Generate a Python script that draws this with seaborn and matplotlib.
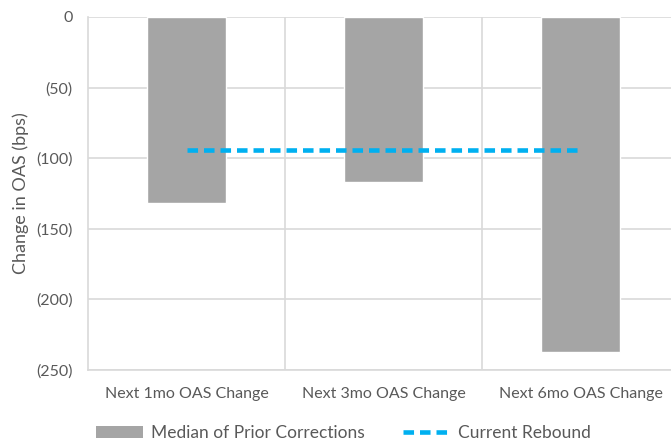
import numpy as np
import pandas as pd
import matplotlib
matplotlib.use("Agg")
import matplotlib.pyplot as plt
import seaborn as sns
from matplotlib.patches import Patch
from matplotlib.lines import Line2D
from matplotlib.ticker import FuncFormatter, FixedLocator

categories = ["Next 1mo OAS Change", "Next 3mo OAS Change", "Next 6mo OAS Change"]
median_prior = [-132, -117, -237]
current_rebound = [-94, -94, -94]
y_ticks = [0, -50, -100, -150, -200, -250]

sns.set_theme(style="white")
plt.rcParams["font.family"] = ["Lato", "DejaVu Sans"]
TXT = "#595959"
GRID = "#D9D9D9"
BAR = "#A5A5A5"
LINE = "#00B0F0"
DASH = (0, (2.3, 1.3))

fig = plt.figure(figsize=(6.71, 4.41), dpi=100)
ax = fig.add_axes([88/671, (441-370)/441, 591/671, 353/441])

df = pd.DataFrame({"cat": categories, "val": median_prior})
sns.barplot(data=df, x="cat", y="val", color=BAR, width=0.4, saturation=1, ax=ax, zorder=3)
sns.lineplot(x=np.arange(len(categories)), y=current_rebound, ax=ax, color=LINE,
             linewidth=3.3, linestyle=DASH, zorder=4)

ax.set_xlim(-0.5, len(categories) - 0.5)
ax.set_ylim(-250, 0)
ax.yaxis.set_major_locator(FixedLocator(y_ticks))
ax.yaxis.set_major_formatter(FuncFormatter(lambda v, p: "0" if v == 0 else f"({abs(int(v))})"))
ax.xaxis.set_minor_locator(FixedLocator([0.5, 1.5]))
ax.grid(axis="y", which="major", color=GRID, linewidth=1.2, zorder=0)
ax.grid(axis="x", which="minor", color=GRID, linewidth=1.2, zorder=0)
ax.set_axisbelow(True)
for s in ["top", "right"]:
    ax.spines[s].set_visible(False)
ax.spines["left"].set_color(GRID)
ax.spines["left"].set_linewidth(1.2)
ax.spines["bottom"].set_color(GRID)
ax.spines["bottom"].set_linewidth(1.2)
ax.tick_params(axis="both", which="both", length=0, colors=TXT, labelsize=11.5)
ax.tick_params(axis="y", pad=11)
ax.tick_params(axis="x", pad=12)
ax.set_xlabel("")
ax.set_ylabel("Change in OAS (bps)", color=TXT, fontsize=13, labelpad=5)

handles = [Patch(facecolor=BAR, edgecolor="none"),
           Line2D([0], [0], color=LINE, linewidth=3.3, linestyle=DASH)]
fig.legend(handles, ["Median of Prior Corrections", "Current Rebound"], loc="center",
           bbox_to_anchor=(0.512, 0.018), ncol=2, frameon=False, fontsize=12.5,
           labelcolor=TXT, handlelength=2.7, columnspacing=2.2, handletextpad=0.45)

fig.savefig("out.png", dpi=100)
